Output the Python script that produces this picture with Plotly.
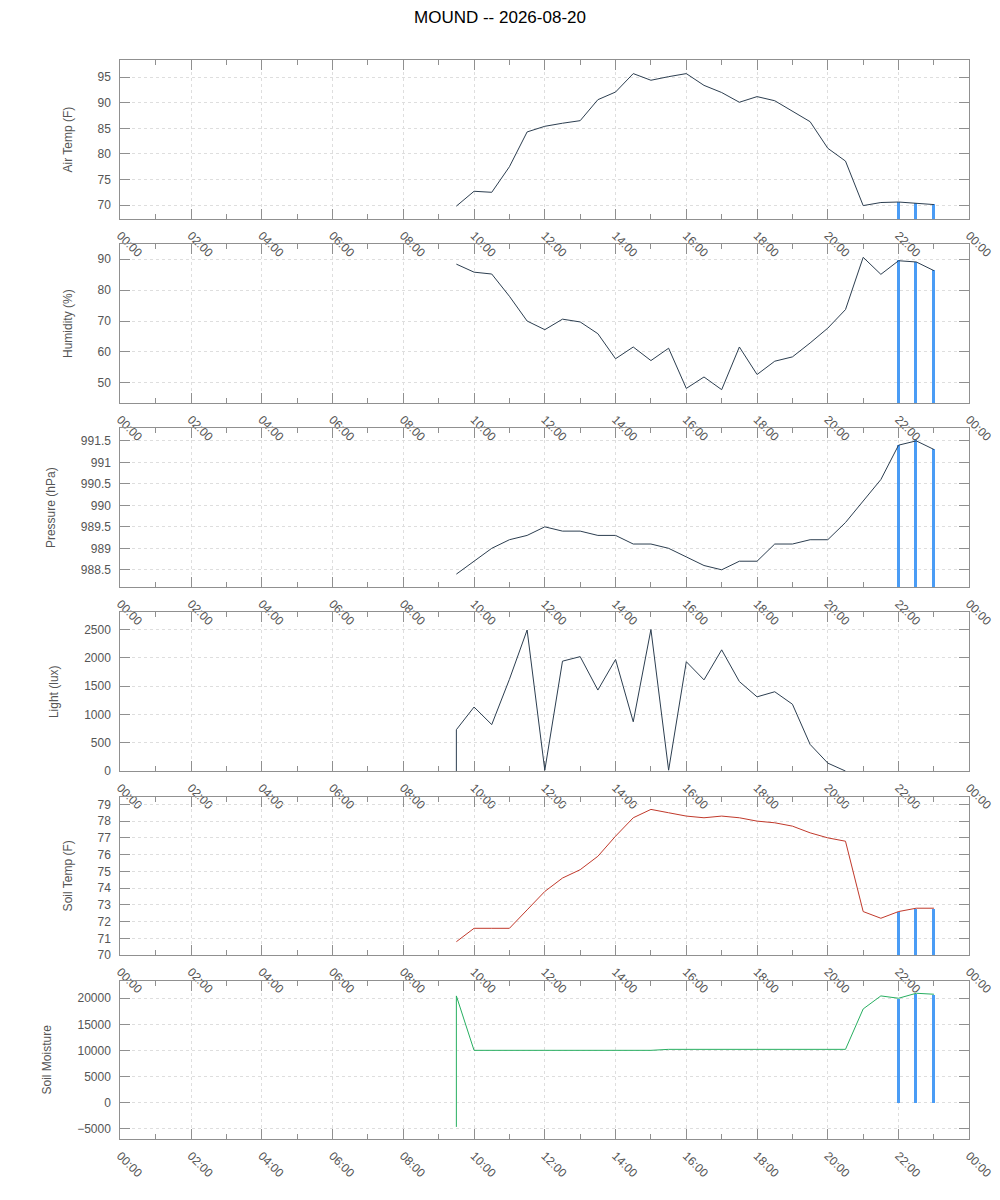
import plotly.graph_objects as go
from plotly.subplots import make_subplots

DAY = "2026-08-20"

# readings every half hour, the first slot was logged twice
times = ["09:30", "09:30", "10:00", "10:30", "11:00", "11:30", "12:00", "12:30",
         "13:00", "13:30", "14:00", "14:30", "15:00", "15:30", "16:00", "16:30",
         "17:00", "17:30", "18:00", "18:30", "19:00", "19:30", "20:00", "20:30",
         "21:00", "21:30", "22:00", "22:30", "23:00"]

air_temp = [69.8, 69.8, 72.7, 72.5, 77.5, 84.3, 85.4, 86.0, 86.5, 90.6, 92.1, 95.7,
            94.4, 95.1, 95.7, 93.4, 92.0, 90.1, 91.2, 90.4, 88.4, 86.3, 81.1, 78.6,
            69.9, 70.5, 70.6, 70.4, 70.1]
humidity = [88.4, 88.4, 85.8, 85.2, 78.0, 70.0, 67.2, 70.6, 69.7, 65.9, 57.8, 61.6,
            57.2, 61.2, 48.2, 51.9, 47.8, 61.6, 52.7, 57.0, 58.4, 62.9, 67.7, 73.7,
            90.6, 85.1, 89.5, 89.1, 86.3]
pressure = [988.4, 988.4, 988.7, 989.0, 989.2, 989.3, 989.5, 989.4, 989.4, 989.3,
            989.3, 989.1, 989.1, 989.0, 988.8, 988.6, 988.5, 988.7, 988.7, 989.1,
            989.1, 989.2, 989.2, 989.6, 990.1, 990.6, 991.4, 991.5, 991.3]
# no light line after dusk, only the zero impulses
light = [0, 730, 1130, 820, 1620, 2490, 15, 1940, 2020, 1430, 1970, 870, 2500, 15,
         1930, 1610, 2140, 1580, 1310, 1400, 1180, 470, 140, 0, None, None, None, None, None]
light_impulse = [0, 0, 0]
soil_temp = [70.8, 70.8, 71.6, 71.6, 71.6, 72.7, 73.8, 74.6, 75.1, 75.9, 77.1, 78.2,
             78.7, 78.5, 78.3, 78.2, 78.3, 78.2, 78.0, 77.9, 77.7, 77.3, 77.0, 76.8,
             72.6, 72.2, 72.6, 72.8, 72.8]
soil_moisture = [-4700, 20450, 10000, 10000, 10000, 10000, 10000, 10000, 10000, 10000,
                 10000, 10000, 10000, 10190, 10190, 10190, 10190, 10190, 10190, 10190,
                 10190, 10190, 10190, 10190, 17950, 20450, 20000, 20960, 20770]

# the last three readings are also drawn as impulses
n_impulse = 3

panels = [
    ("Air Temp (F)", air_temp, air_temp[-n_impulse:], "#2c3e50", [67.3, 98.3], 5),
    ("Humidity (%)", humidity, humidity[-n_impulse:], "#2c3e50", [43.5, 94.8], 10),
    ("Pressure (hPa)", pressure, pressure[-n_impulse:], "#2c3e50", [988.1, 991.79], 0.5),
    ("Light (lux)", light, light_impulse, "#2c3e50", [0, 2800], 500),
    ("Soil Temp (F)", soil_temp, soil_temp[-n_impulse:], "#c0392b", [70, 79.47], 1),
    ("Soil Moisture", soil_moisture, soil_moisture[-n_impulse:], "#27ae60", [-7050, 23400], 5000),
]

FRAME = "#909090"
GRID = "#dedede"
TXT = "#555555"
BAR = "#4a9cf5"
PAD = 8  # the page body margin

x = [f"{DAY} {t}" for t in times]

fig = make_subplots(rows=6, cols=1)

for i, (name, vals, imp, color, yr, step) in enumerate(panels, start=1):
    fig.add_trace(go.Scatter(x=x, y=vals, mode="lines", line=dict(color=color, width=1),
                             showlegend=False), row=i, col=1)
    fig.add_trace(go.Bar(x=x[-n_impulse:], y=imp, width=300000,
                         marker=dict(color=BAR, line=dict(width=0)), showlegend=False),
                  row=i, col=1)

    top = 60.3 + 184.05 * (i - 1) - PAD
    bottom = top + 158.6
    fig.update_yaxes(range=yr, dtick=step, title=dict(text=name, standoff=22,
                     font=dict(size=12, color=TXT)),
                     domain=[1 - bottom / 1200, 1 - top / 1200],
                     row=i, col=1)
    fig.update_xaxes(domain=[(120.3 - PAD) / 1000, (969.3 - PAD) / 1000], row=i, col=1)

fig.update_xaxes(type="date", range=[f"{DAY} 00:00", "2026-08-21 00:00"],
                 dtick=7200000, tickformat="%H:%M", tickangle=45, automargin=False,
                 showline=True, linecolor=FRAME, linewidth=1, mirror="ticks",
                 ticks="inside", ticklen=10, tickcolor=FRAME, ticklabelstandoff=4,
                 showgrid=True, gridcolor=GRID, griddash="dot", gridwidth=1,
                 minor=dict(ticks="inside", ticklen=5, dtick=3600000, tickcolor=FRAME,
                            showgrid=False),
                 layer="below traces",
                 tickfont=dict(size=12, color=TXT), zeroline=False)
fig.update_yaxes(showline=True, linecolor=FRAME, linewidth=1, mirror="ticks",
                 ticks="inside", ticklen=10, tickcolor=FRAME, ticklabelstandoff=6,
                 showgrid=True, gridcolor=GRID, griddash="dot", gridwidth=1,
                 tickformat="d", zeroline=False, automargin=False,
                 tickfont=dict(size=12, color=TXT))
# pressure needs the half steps
fig.update_yaxes(tickformat="", row=3, col=1)

fig.update_layout(
    width=1000, height=1200,
    margin=dict(l=0, r=0, t=0, b=0),
    paper_bgcolor="white", plot_bgcolor="white",
    font=dict(family="Liberation Sans, Arial, sans-serif", color=TXT),
    title=dict(text="MOUND -- 2026-08-20", x=(500 - PAD) / 1000, xanchor="center",
               y=1 - 3 / 1200, yanchor="top", automargin=False,
               font=dict(size=17, color="#000000")),
    bargap=0,
)

fig.write_html("out.html")
